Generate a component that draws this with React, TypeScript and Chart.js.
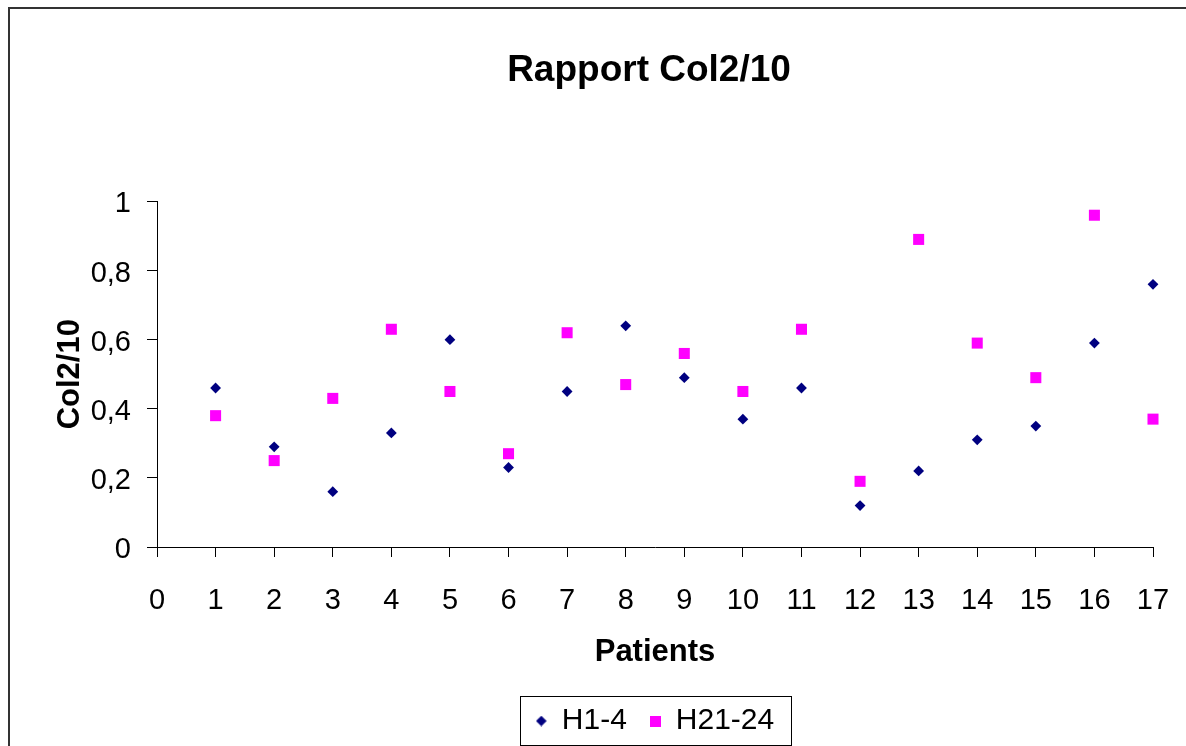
import React, { useEffect, useRef } from 'react';
import { Chart, registerables } from 'chart.js';

Chart.register(...registerables);

// ---------- data ----------
const patients = [1, 2, 3, 4, 5, 6, 7, 8, 9, 10, 11, 12, 13, 14, 15, 16, 17];
const seriesH1to4 = [0.46, 0.29, 0.16, 0.33, 0.6, 0.23, 0.45, 0.64, 0.49, 0.37, 0.46, 0.12, 0.22, 0.31, 0.35, 0.59, 0.76];
const seriesH21to24 = [0.38, 0.25, 0.43, 0.63, 0.45, 0.27, 0.62, 0.47, 0.56, 0.45, 0.63, 0.19, 0.89, 0.59, 0.49, 0.96, 0.37];
const seriesLabels = ['H1-4', 'H21-24'];
const xTickLabels = ['0', '1', '2', '3', '4', '5', '6', '7', '8', '9', '10', '11', '12', '13', '14', '15', '16', '17'];
const yTickLabels = ['0', '0,2', '0,4', '0,6', '0,8', '1'];
const chartTitle = 'Rapport Col2/10';
const xAxisTitle = 'Patients';
const yAxisTitle = 'Col2/10';

// ---------- styling ----------
const FONT = "'Liberation Sans', Arial, Helvetica, sans-serif";
const NAVY = '#000080';
const MAGENTA = '#FF00FF';
const CW = 1282;
const CH = 760;

function makeMarker(kind: 'diamond' | 'square', color: string): HTMLCanvasElement {
  const c = document.createElement('canvas');
  const s = 11;
  c.width = s;
  c.height = s;
  const g = c.getContext('2d')!;
  g.fillStyle = color;
  if (kind === 'diamond') {
    g.beginPath();
    g.moveTo(s / 2, 0.2);
    g.lineTo(s - 0.2, s / 2);
    g.lineTo(s / 2, s - 0.2);
    g.lineTo(0.2, s / 2);
    g.closePath();
    g.fill();
  } else {
    g.fillRect(0, 0, s, s);
  }
  return c;
}

const legendBoxPlugin = {
  id: 'legendBox',
  afterDraw(chart: any) {
    const lg = chart.legend;
    if (!lg || !lg.legendHitBoxes || !lg.legendHitBoxes.length) return;
    const hb = lg.legendHitBoxes;
    let l = Infinity;
    let r = -Infinity;
    hb.forEach((h: any) => {
      l = Math.min(l, h.left);
      r = Math.max(r, h.left + h.width);
    });
    const cy = hb[0].top + hb[0].height / 2;
    const ctx = chart.ctx;
    ctx.save();
    ctx.strokeStyle = '#000';
    ctx.lineWidth = 1;
    const x0 = Math.round(l - 16) + 0.5;
    const x1 = Math.round(r + 17) + 0.5;
    const y0 = Math.round(cy - 25) + 0.5;
    const y1 = Math.round(cy + 24) + 0.5;
    ctx.strokeRect(x0, y0, x1 - x0, y1 - y0);
    ctx.restore();
  },
};

export default function App() {
  const ref = useRef<HTMLCanvasElement | null>(null);

  useEffect(() => {
    if (!ref.current) return;
    const markers = [makeMarker('diamond', NAVY), makeMarker('square', MAGENTA)];
    const colors = [NAVY, MAGENTA];

    const chart = new Chart(ref.current, {
      type: 'scatter',
      data: {
        datasets: [
          {
            label: seriesLabels[0],
            data: patients.map((p, i) => ({ x: p, y: seriesH1to4[i] })),
            backgroundColor: NAVY,
            borderColor: NAVY,
            borderWidth: 0,
            pointStyle: 'rectRot',
            pointRadius: 5.4,
            showLine: false,
            clip: false,
          },
          {
            label: seriesLabels[1],
            data: patients.map((p, i) => ({ x: p, y: seriesH21to24[i] })),
            backgroundColor: MAGENTA,
            borderColor: MAGENTA,
            borderWidth: 0,
            pointStyle: 'rect',
            pointRadius: 7.8,
            showLine: false,
            clip: false,
          },
        ],
      },
      options: {
        animation: false,
        responsive: false,
        devicePixelRatio: 1,
        events: [],
        layout: { padding: { top: 0, left: 0, right: 0, bottom: 21 } },
        plugins: {
          tooltip: { enabled: false },
          title: {
            display: true,
            text: chartTitle,
            color: '#000',
            font: { family: FONT, size: 37, weight: 'bold' },
            padding: { top: 42, bottom: 108 },
          },
          legend: {
            display: true,
            position: 'bottom',
            fullSize: false,
            labels: {
              color: '#000',
              font: { family: FONT, size: 30 },
              usePointStyle: true,
              boxWidth: 11,
              boxHeight: 11,
              padding: 23,
              generateLabels: () =>
                seriesLabels.map((t, i) => ({
                  text: t,
                  fillStyle: colors[i],
                  strokeStyle: colors[i],
                  lineWidth: 0,
                  pointStyle: markers[i],
                  hidden: false,
                  datasetIndex: i,
                  fontColor: '#000',
                })),
            },
          },
        },
        scales: {
          x: {
            type: 'linear',
            position: 'bottom',
            min: 0,
            max: 17,
            afterFit: (s: any) => {
              s.height = 136;
            },
            ticks: {
              stepSize: 1,
              autoSkip: false,
              maxRotation: 0,
              color: '#000',
              padding: 27,
              font: { family: FONT, size: 29 },
              callback: (_v: any, i: number) => xTickLabels[i],
            },
            grid: { drawOnChartArea: false, drawTicks: true, tickLength: 10, color: '#000', lineWidth: 1 },
            border: { display: true, color: '#000', width: 1 },
            title: {
              display: true,
              text: xAxisTitle,
              color: '#000',
              font: { family: FONT, size: 31, weight: 'bold' },
              padding: { top: 0, bottom: 12 },
            },
          },
          y: {
            type: 'linear',
            position: 'left',
            min: 0,
            max: 1,
            afterFit: (s: any) => {
              s.width = 149;
            },
            ticks: {
              stepSize: 0.2,
              color: '#000',
              padding: 16,
              labelOffset: 3,
              font: { family: FONT, size: 29 },
              callback: (_v: any, i: number) => yTickLabels[i],
            },
            grid: { drawOnChartArea: false, drawTicks: true, tickLength: 10, color: '#000', lineWidth: 1 },
            border: { display: true, color: '#000', width: 1 },
            title: {
              display: true,
              text: yAxisTitle,
              color: '#000',
              font: { family: FONT, size: 31, weight: 'bold' },
              padding: { top: 44, bottom: 0 },
            },
          },
          yRightSpacer: {
            type: 'linear',
            position: 'right',
            display: true,
            min: 0,
            max: 1,
            afterFit: (s: any) => {
              s.width = 137;
            },
            ticks: { display: false },
            grid: { display: false, drawTicks: false },
            border: { display: false },
          },
        },
      },
      plugins: [legendBoxPlugin],
    } as any);

    return () => chart.destroy();
  }, []);

  return (
    <div style={{ position: 'fixed', left: 0, top: 0, width: 1186, height: 746, overflow: 'hidden', background: '#fff' }}>
      <div
        style={{
          position: 'absolute',
          left: 8,
          top: 7,
          width: CW,
          height: CH + 40,
          border: '2px solid #333',
          boxSizing: 'border-box',
        }}
      />
      <canvas
        ref={ref}
        width={CW}
        height={CH}
        style={{ position: 'absolute', left: 8, top: 7, width: CW, height: CH }}
      />
    </div>
  );
}
